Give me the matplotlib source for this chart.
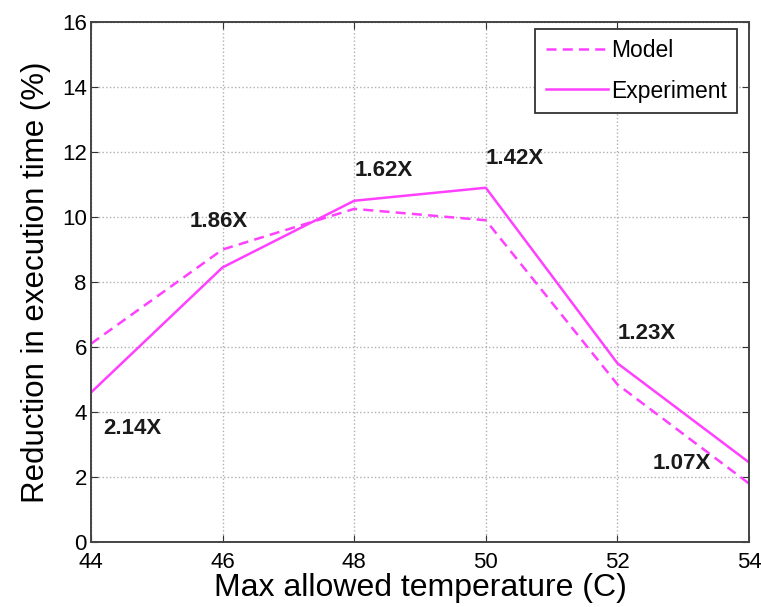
import matplotlib
matplotlib.use("Agg")
import matplotlib.pyplot as plt

temps = [44, 46, 48, 50, 52, 54]
model = [6.1, 9.0, 10.25, 9.9, 4.85, 1.8]
experiment = [4.6, 8.45, 10.5, 10.9, 5.5, 2.45]
ann_text = ["2.14X", "1.86X", "1.62X", "1.42X", "1.23X", "1.07X"]
ann_x = [44.18, 45.5, 48.0, 50.0, 52.0, 52.53]
ann_y = [3.48, 9.87, 11.43, 11.8, 6.43, 2.43]

plt.rcParams['font.family'] = ['Liberation Sans', 'DejaVu Sans']

fig = plt.figure(figsize=(7.61, 6.07), dpi=100)
ax = fig.add_axes([91/761, 1-542/607, (749-91)/761, (542-22)/607])

color = '#ff40ff'
ax.plot(temps, model, '--', color=color, lw=1.8, dashes=(4, 2.5), label='Model')
ax.plot(temps, experiment, '-', color=color, lw=1.8, label='Experiment')

for t, x, y in zip(ann_text, ann_x, ann_y):
    ax.text(x, y, t, fontsize=16, fontweight='bold', ha='left', va='center', color='#1a1a1a')

ax.set_xlim(44, 54)
ax.set_ylim(0, 16)
ax.set_xticks(range(44, 55, 2))
ax.set_yticks(range(0, 17, 2))
ax.grid(True, linestyle=':', color='#b0b0b0', lw=1.0)
ax.tick_params(direction='in', top=True, right=True, labelsize=16, length=5, color='#333333')
ax.tick_params(axis='x', pad=7)
ax.tick_params(axis='y', pad=3)
for s in ax.spines.values():
    s.set_color('#444444')
    s.set_linewidth(1.4)

ax.set_xlabel('Max allowed temperature (C)', fontsize=23, labelpad=0)
ax.set_ylabel('Reduction in execution time (%)', fontsize=22.5, labelpad=8)

leg = ax.legend(loc='upper right', bbox_to_anchor=(0.982, 0.9865), borderaxespad=0,
                fontsize=16.5, fancybox=False, framealpha=1,
                edgecolor='#333333', handlelength=2.7, handletextpad=0.15,
                labelspacing=0.75, borderpad=0.45)
leg.get_frame().set_linewidth(1.3)

fig.savefig('out.png', dpi=100)
